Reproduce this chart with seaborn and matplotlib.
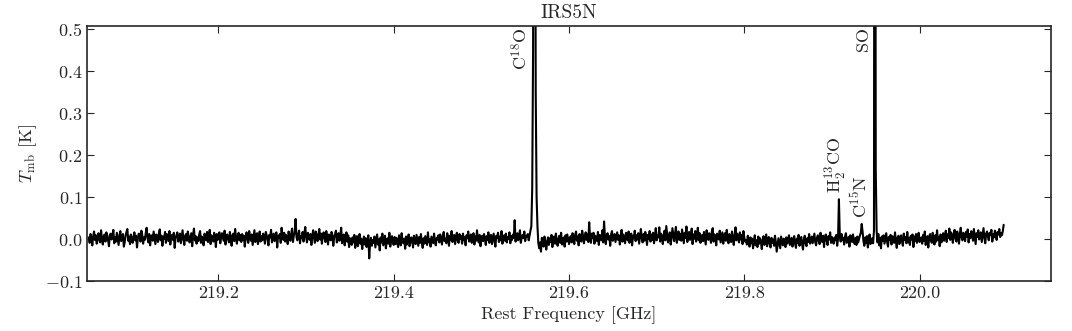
import numpy as np
import pandas as pd
import matplotlib
matplotlib.use("Agg")
import matplotlib.pyplot as plt
import seaborn as sns
from matplotlib.ticker import FormatStrFormatter, ScalarFormatter

# Spectrum: first channel and channel width (GHz), intensities in mK (25 channels per row)
freq_start = 219.052
chan_width = 0.001
tmb_mk = [
    4, -9, 12, 3, -15, 7, 18, -2, 9, -11, -4, 14, 6, -8, 21, 2, -13, 5, 11, -6, 16, 8, -3, -17, 10,
    13, -1, 7, 22, -10, 4, -6, 15, 1, -14, 9, 19, -5, 3, 12, -18, -7, 8, 17, 24, -4, 6, -12, 11, 2,
    -9, 5, 16, -3, 8, -20, 1, 13, 7, -6, 20, 10, -11, 4, -2, 15, 27, 3, -8, 12, -15, 6, 9, -4, 18,
    2, -12, 11, 5, -7, 14, 23, -3, 8, -16, 6, 1, 17, -9, 12, 4, -5, 19, -13, 7, 10, -2, 15, -21, 3,
    9, 16, -6, 2, 13, -10, 5, 21, -1, -14, 8, 12, -4, 18, 6, -8, 3, 14, -17, 10, 25, -3, 7, -11, 4,
    -5, 11, 19, -9, 6, 2, -15, 13, 8, -3, 17, -7, 4, 22, -12, 9, 1, -6, 15, 5, -19, 12, -2, 8, 16,
    -10, 3, 14, 7, -4, 20, -13, 6, 11, -1, -8, 17, 2, -16, 9, 13, -5, 24, 4, -11, 7, 15, -3, 10, -7,
    12, -2, 8, -18, 5, 16, 1, -9, 19, 6, -4, 11, -14, 3, 21, -7, 9, 14, -12, 2, 18, -6, 7, -3, 13,
    5, -11, 17, 9, -1, -15, 10, 4, 22, -8, 6, 13, -5, 1, 16, -20, 8, 3, 12, -9, 27, 7, -2, 15, -6,
    10, 3, -12, 18, 6, -4, 14, 25, -7, 9, 16, 48, 5, -3, 11, 20, -10, 7, 2, 17, -6, 13, 29, 4, -8,
    15, 8, -2, 12, -14, 6, 21, 3, -9, 18, 10, -5, 7, 24, -1, 13, -11, 9, 16, 2, -7, 19, 5, -13, 11,
    6, -3, 17, 9, -16, 4, 12, 20, -8, 1, 14, -4, 8, 27, -10, 5, 11, -15, 3, 16, -6, 9, -19, 2, -9,
    -14, 4, -8, 10, -21, -3, 7, -17, -6, 12, -11, 1, -24, -7, 6, -13, 2, -19, -4, 9, -46, -10, 3, -16, -2,
    -9, 6, -20, -5, 11, -13, -1, -27, 4, -8, 13, -15, -3, 8, -22, -6, 2, -11, 15, -18, -4, 7, -9, -14, 5,
    -12, 3, -7, -19, 9, -2, -15, 14, -6, -10, 1, -23, 6, -13, -4, 11, -17, -8, 4, -1, -20, 8, -5, -12, 10,
    -3, -16, 5, -9, 12, -7, -21, 2, -11, 7, -4, -14, 16, -8, 0, -18, 6, -2, -10, 13, -6, -15, 3, -1, 9,
    -8, 11, 2, -13, 6, 17, -5, 1, -10, 14, 4, -16, 8, -2, 19, -7, 3, 10, -12, 5, 15, -4, -9, 12, 0,
    7, -11, 13, -3, 5, -15, 9, 2, 18, -6, -1, 11, -9, 4, 14, -13, 6, -4, 21, 1, -8, 10, -17, 3, 8,
    -5, 12, 2, -14, 7, -2, 16, -9, 4, 10, -12, 1, 13, -6, -18, 8, 3, 15, -7, 6, -3, 19, -11, 2, 9,
    -4, 13, -8, 5, 1, 16, -10, 7, -2, 11, 3, 45, -6, 9, 14, -3, 6, 21, -9, 4, 10, 2, 18, -5, 8,
    5, 12, -3, 9, 20, 30, 120, 450, 1600, 1400, 350, 100, 30, -10, -22, -8, -30, 3, -12, -18, 6, -5, -25, -9, 4,
    -14, 2, -7, 10, -19, -3, 6, -11, 13, -5, -16, 1, 8, -9, 15, -13, -2, 4, -18, 9, -6, 11, -1, -12, 3,
    7, -8, 14, 3, -12, 10, 18, -4, 6, -15, 12, 1, -6, 20, 8, -10, 4, 16, -2, 11, -7, 40, 5, -9, 13,
    2, 15, -11, 8, 3, -5, 17, -14, 10, 6, -3, 21, -8, 42, 4, -12, 9, 14, -1, 7, -16, 11, 19, -4, 6,
    12, -7, 5, 16, -2, 9, -13, 3, 22, -6, 11, 1, -10, 15, 7, -3, 18, -9, 4, 13, -15, 8, 2, 20, -5,
    9, -1, 14, -11, 6, 24, 3, -8, 12, -4, 17, 7, -14, 10, 1, 19, -6, 11, -2, 15, -10, 5, 26, -3, 8,
    4, 28, -6, 13, 9, -12, 7, 20, -3, 31, 11, -8, 5, 16, -13, 2, 26, 10, -5, 14, 29, -9, 6, 18, -2,
    12, -4, 23, 7, -10, 15, 3, 30, -7, 9, 17, -2, 5, 25, -12, 11, 1, 19, -6, 8, 27, -3, 14, -9, 6,
    10, -5, 17, 2, -13, 21, 8, -2, 14, 5, -9, 18, 26, -6, 11, 3, -15, 13, 7, -1, 20, -8, 4, 16, -11,
    7, 14, -4, 22, 1, -10, 12, 6, -7, 18, 3, -14, 9, 28, -3, 13, 5, -8, 16, -1, 10, -12, 19, 4, -6,
    -2, -13, 8, -7, -18, 4, -10, 1, -22, -5, 9, -15, -3, -19, 6, -11, 2, -8, -24, -1, 7, -14, -6, 11, -17,
    -4, 5, -12, -20, 3, -9, -1, -16, 8, -7, -30, -13, 2, -10, -22, 6, -5, -15, 1, -8, -19, 4, -11, -3, 9,
    -14, -6, 3, -18, -2, 7, -12, -21, 1, -9, 10, -16, -4, 5, -13, -25, -1, 8, -10, -17, 2, -7, 12, -11, -5,
    6, -10, 2, 13, -8, -15, 4, 9, -5, -12, 15, 1, -7, 8, -19, 3, 11, -3, -14, 7, -1, 16, -9, 5, -6,
    -11, 4, -3, 10, -16, 1, 95, 8, -6, 12, -2, 3, -13, 7, 14, -9, -1, 5, -18, 9, 2, -7, 11, -4, -12,
    3, -14, 6, -8, 1, 9, 15, 36, 18, -5, -16, 4, -9, 7, -20, -3, 11, -12, -6, 2, -10, 20, 2500, 170, 20,
    -8, 12, -15, 3, -22, 6, -4, 9, -11, 1, 14, -7, -18, 5, -2, 10, -13, 7, 2, -9, 16, -5, -21, 4, 8,
    -12, 1, 9, -6, -16, 13, -2, 5, -10, 17, -8, 3, -14, 8, -1, 11, -19, 6, -4, 12, -9, 2, 15, -7, -3,
    4, -11, 10, -5, 18, -14, 1, 7, -20, 6, 12, -3, -9, 15, 3, -13, 9, -6, 21, -2, 5, -17, 11, -8, 2,
    14, -4, 9, 20, -7, 11, 3, 25, -2, 16, 7, -9, 13, 22, 1, -6, 18, 8, -11, 12, 27, 4, -3, 15, 9,
    -5, 17, 6, 23, -8, 12, 2, 19, 10, -4, 24, 7, -12, 14, 5, 21, -1, 11, 16, -7, 9, 26, 3, -10, 13,
    18, 6, -3, 15, 10, 22, -6, 12, 4, 20, 8, -2, 17, 11, 24, 5, 14, 9, 19, 34,
]

# Line identifications
strong_lines = ["C$^{18}$O", "SO"]
strong_freqs = [219.5604, 219.9494]
weak_lines = ["H$_2^{13}$CO", "C$^{15}$N"]
weak_freqs = [219.9085, 219.9341]
weak_peaks = [0.095, 0.036]

xtick_vals = [219.2, 219.4, 219.6, 219.8, 220.0]
ytick_vals = [-0.1, 0.0, 0.1, 0.2, 0.3, 0.4, 0.5]

freq = freq_start + chan_width * np.arange(len(tmb_mk))
df = pd.DataFrame({"freq": freq, "tmb": np.array(tmb_mk) / 1000.0})

sns.set_style("ticks")
plt.rcParams["font.family"] = ["cmr10", "DejaVu Serif"]
plt.rcParams["mathtext.fontset"] = "cm"
plt.rcParams["axes.formatter.use_mathtext"] = True

fig, ax = plt.subplots(figsize=(10.72, 3.31), dpi=100)
fig.subplots_adjust(left=0.0812, right=0.9804, top=0.9215, bottom=0.151)

sns.lineplot(data=df, x="freq", y="tmb", color="black", lw=1.5,
             estimator=None, sort=False, ax=ax)

for name, f in zip(strong_lines, strong_freqs):
    ax.text(f - 0.005, 0.505, name, rotation=90, ha="right", va="top", fontsize=13)
for name, f, p in zip(weak_lines, weak_freqs, weak_peaks):
    ax.text(f - 0.003, p + 0.015, name, rotation=90, ha="center", va="bottom", fontsize=13)

ax.set_xlim(219.05, 220.15)
ax.set_ylim(-0.1, 0.508)
ax.set_xticks(xtick_vals)
ax.set_yticks(ytick_vals)
ax.xaxis.set_major_formatter(FormatStrFormatter("%.1f"))
ax.yaxis.set_major_formatter(ScalarFormatter(useMathText=True))
ax.tick_params(direction="in", length=5, width=0.8, top=True, right=True, labelsize=13)
for s in ax.spines.values():
    s.set_linewidth(1.2)

ax.set_xlabel("Rest Frequency [GHz]", fontsize=13)
ax.set_ylabel(r"$T_{\rm mb}$ [K]", fontsize=13)
ax.set_title("IRS5N", fontsize=14)

fig.savefig("out.png", dpi=100)
